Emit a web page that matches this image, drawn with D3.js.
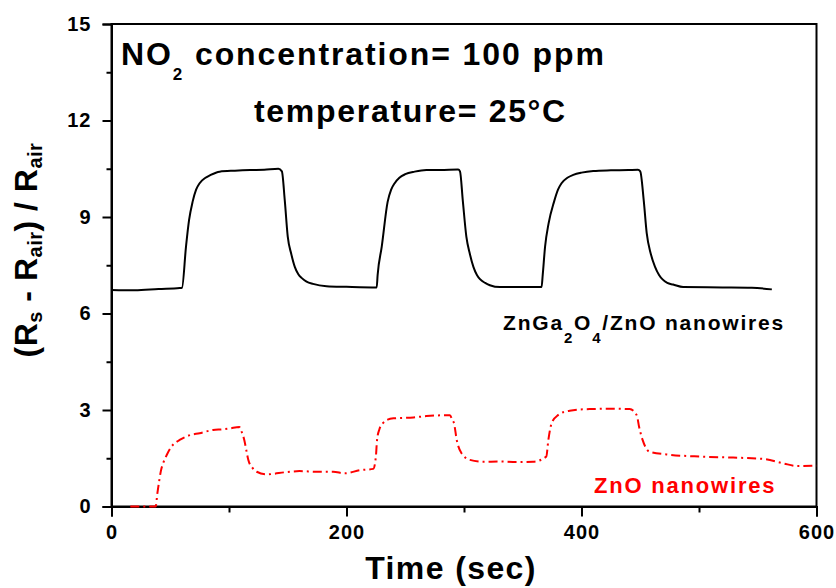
<!DOCTYPE html>
<html>
<head>
<meta charset="utf-8">
<script src="https://cdn.jsdelivr.net/npm/d3@7"></script>
<style>
  html, body { margin: 0; padding: 0; background: #fff; }
  svg { display: block; font-family: "Liberation Sans", Arial, sans-serif; font-weight: bold; }
</style>
</head>
<body>
<svg id="chart" width="836" height="588"></svg>
<script>
// ---- data ----
const blackTime = [0,20,40,58,60,63.4,66,69,72,75,80,84,92,105,118,130,142,145,147.5,150,153,156,159,162,166,171.5,183,200,225.7,
  226.5,230,235,238,241,245,250,258,268,280,295,296.6,299,302,305,308,311,313.6,318,322,330.6,366,
  367,369,372,376.6,380,383,388,393,400,410,425,440,448,450,453,455.5,459,462.5,466,469,473,478,486.5,520,545,562];
const blackValue = [6.73,6.72,6.76,6.79,6.80,8.08,8.9,9.47,9.85,10.05,10.22,10.3,10.41,10.44,10.46,10.47,10.5,10.42,9.5,8.39,7.85,7.45,7.22,7.1,6.99,6.92,6.85,6.83,6.81,
  7.2,8.08,9.47,9.85,10.05,10.22,10.33,10.41,10.46,10.46,10.48,10.42,9.5,8.39,7.85,7.45,7.2,7.07,6.95,6.88,6.82,6.82,
  7.2,8.08,8.8,9.47,9.85,10.05,10.22,10.31,10.38,10.43,10.45,10.46,10.47,10.42,9.5,8.5,7.85,7.46,7.2,7.06,6.95,6.9,6.82,6.81,6.8,6.75];

const redTime = [16,37.6,39,40.7,42,44,47,51,55,58,66.8,75,86.5,95,101,108.8,111,113,115,116.4,120,123.6,132,149,160,175,188.6,198.7,211.5,222.8,
  225,226,228,231,235,240,257,268,288,290,291.5,293.8,298,305,316,330,345,358.7,
  370,371.8,374.6,380,390,407,425,441,447,449,452,458,472.5,501,529,554.7,571.8,583,600];
const redValue = [0,0,0.4,0.82,1.1,1.35,1.6,1.86,2.0,2.07,2.22,2.28,2.38,2.40,2.43,2.47,2.3,2.07,1.7,1.45,1.2,1.08,1.0,1.07,1.1,1.08,1.08,1.03,1.13,1.17,
  1.55,2.07,2.4,2.59,2.7,2.74,2.77,2.81,2.84,2.7,2.59,2.07,1.65,1.45,1.39,1.40,1.38,1.39,
  1.55,2.07,2.59,2.84,2.98,3.03,3.04,3.03,2.84,2.48,2.07,1.70,1.62,1.55,1.52,1.48,1.34,1.26,1.27];

const xTicks = [0,100,200,300,400,500,600];
const xLabels = [0,200,400,600];
const yTicks = [0,1.5,3,4.5,6,7.5,9,10.5,12,13.5,15];
const yLabels = [0,3,6,9,12,15];

// ---- layout ----
const svg = d3.select("#chart");
const L = 111.5, R = 816.5, T = 24, B = 506.5;
const x = d3.scaleLinear().domain([0,600]).range([L,R]);
const y = d3.scaleLinear().domain([0,15]).range([B,T]);

// frame
svg.append("rect").attr("x",L).attr("y",T).attr("width",R-L).attr("height",B-T)
  .attr("fill","none").attr("stroke","#000").attr("stroke-width",2);

// axes
const xAxis = d3.axisBottom(x).tickValues(xTicks).tickSize(10).tickPadding(8)
  .tickFormat(d => xLabels.includes(d) ? d : "");
const gx = svg.append("g").attr("transform",`translate(0,${B})`).call(xAxis);
gx.select(".domain").attr("stroke-width",2);
gx.selectAll(".tick line").attr("stroke-width",2).attr("y2", d => xLabels.includes(d) ? 10 : 6);
gx.selectAll(".tick text").attr("font-size",20).attr("font-weight","bold")
  .attr("font-family",'"Liberation Sans", Arial, sans-serif').attr("letter-spacing",1).attr("fill","#000");

const yAxis = d3.axisLeft(y).tickValues(yTicks).tickSize(9).tickPadding(11)
  .tickFormat(d => yLabels.includes(d) ? d : "");
const gy = svg.append("g").attr("transform",`translate(${L},0)`).call(yAxis);
gy.select(".domain").attr("stroke-width",2);
gy.selectAll(".tick line").attr("stroke-width",2).attr("x2", d => yLabels.includes(d) ? -9 : -5);
gy.selectAll(".tick text").attr("font-size",20).attr("font-weight","bold")
  .attr("font-family",'"Liberation Sans", Arial, sans-serif').attr("letter-spacing",1).attr("fill","#000");

// lines
const blackData = blackTime.map((t,i) => [t, blackValue[i]]);
const redData = redTime.map((t,i) => [t, redValue[i]]);
const line = d3.line().x(d => x(d[0])).y(d => y(d[1])).curve(d3.curveMonotoneX);

svg.append("path").datum(blackData).attr("d",line).attr("fill","none")
  .attr("stroke","#000").attr("stroke-width",2);
svg.append("path").datum(redData).attr("d",line).attr("fill","none")
  .attr("stroke","#ff0000").attr("stroke-width",2).attr("stroke-dasharray","9,4,2,4");

// titles
const t1 = svg.append("text").attr("x",121).attr("y",65).attr("font-size",32).attr("letter-spacing",1.9);
t1.append("tspan").text("NO");
t1.append("tspan").attr("font-size",17).attr("dy",15).text("2");
t1.append("tspan").attr("dy",-15).text(" concentration= 100 ppm");

svg.append("text").attr("x",254).attr("y",122).attr("font-size",32).attr("letter-spacing",1.7)
  .text("temperature= 25°C");

// series labels
const t3 = svg.append("text").attr("x",503).attr("y",330).attr("font-size",21).attr("letter-spacing",1.8);
t3.append("tspan").text("ZnGa");
t3.append("tspan").attr("font-size",15).attr("dy",13).text("2");
t3.append("tspan").attr("dy",-13).text("O");
t3.append("tspan").attr("font-size",15).attr("dy",13).text("4");
t3.append("tspan").attr("dy",-13).text("/ZnO nanowires");

svg.append("text").attr("x",594).attr("y",493).attr("font-size",22).attr("letter-spacing",1.8)
  .attr("fill","#ff0000").text("ZnO nanowires");

// axis titles
svg.append("text").attr("x",451).attr("y",579).attr("font-size",32).attr("letter-spacing",1.4)
  .attr("text-anchor","middle").text("Time (sec)");

const yt = svg.append("text").attr("transform","translate(37,250) rotate(-90)")
  .attr("text-anchor","middle").attr("font-size",32).attr("letter-spacing",0.5);
yt.append("tspan").text("(R");
yt.append("tspan").attr("font-size",20).attr("dy",5).text("s");
yt.append("tspan").attr("dy",-5).text(" - R");
yt.append("tspan").attr("font-size",20).attr("dy",5).text("air");
yt.append("tspan").attr("dy",-5).text(") / R");
yt.append("tspan").attr("font-size",20).attr("dy",5).text("air");
</script>
</body>
</html>
